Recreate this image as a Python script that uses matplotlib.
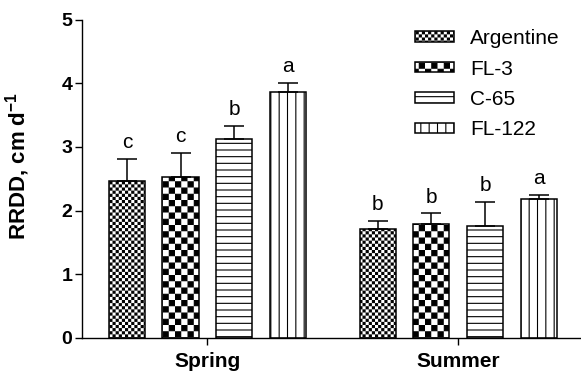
import warnings
import numpy as np
import matplotlib
matplotlib.use("Agg")
import matplotlib.pyplot as plt
from matplotlib import hatch as mhatch
from matplotlib.path import Path

warnings.filterwarnings("ignore")

# datos
estaciones = ["Spring", "Summer"]
cultivares = ["Argentine", "FL-3", "C-65", "FL-122"]
medias = {
    "Argentine": [2.47, 1.71],
    "FL-3": [2.52, 1.785],
    "C-65": [3.13, 1.76],
    "FL-122": [3.86, 2.18],
}
errores = {
    "Argentine": [0.34, 0.12],
    "FL-3": [0.39, 0.17],
    "C-65": [0.20, 0.37],
    "FL-122": [0.14, 0.07],
}
letras = {
    "Argentine": ["c", "b"],
    "FL-3": ["c", "b"],
    "C-65": ["b", "b"],
    "FL-122": ["a", "a"],
}

plt.rcParams["font.family"] = ["Liberation Sans", "DejaVu Sans"]
plt.rcParams["mathtext.fontset"] = "custom"
plt.rcParams["mathtext.rm"] = "Liberation Sans"
plt.rcParams["mathtext.bf"] = "Liberation Sans:bold"
plt.rcParams["hatch.linewidth"] = 0.8


# tramado de tablero (no existe en matplotlib), 'c' = 16 celdas por pulgada
class Tablero(mhatch.HatchPatternBase):
    def __init__(self, hatch, density):
        self.n = hatch.count("c") * 16
        self.num_vertices = (self.n * self.n // 2) * 5

    def set_vertices_and_codes(self, vertices, codes):
        s = 1.0 / self.n
        d = 0.0055
        sq = np.array([[d, d], [s - d, d], [s - d, s - d], [d, s - d], [d, d]])
        partes = []
        for i in range(self.n):
            for j in range(self.n):
                if (i + j) % 2 == 0:
                    partes.append(sq + [i * s, j * s])
        vertices[:] = np.concatenate(partes)
        cod = [Path.MOVETO, Path.LINETO, Path.LINETO, Path.LINETO, Path.CLOSEPOLY]
        codes[:] = np.tile(cod, len(partes))


# lineas horizontales mas densas, 'h' = 15 lineas por pulgada
class Horizontal(mhatch.HorizontalHatch):
    def __init__(self, hatch, density):
        self.num_lines = hatch.count("h") * 15
        self.num_vertices = self.num_lines * 2


mhatch._hatch_types.append(Tablero)
mhatch._hatch_types.append(Horizontal)

tramas = {"Argentine": "cc", "FL-3": "c", "C-65": "h", "FL-122": "||"}

fig = plt.figure(figsize=(5.81, 3.76), dpi=100)
ax = fig.add_axes([82 / 581, 1 - 338 / 376, 499 / 581, (338 - 19.5) / 376])

x = np.arange(len(estaciones))
paso = 0.214
ancho = 0.144
for i, c in enumerate(cultivares):
    pos = x + (i - 1.5) * paso
    ax.bar(pos, medias[c], width=ancho, color="white", edgecolor="black",
           linewidth=1.1, hatch=tramas[c], label=c,
           yerr=[np.zeros(len(x)), errores[c]],
           error_kw=dict(ecolor="black", elinewidth=1.1, capsize=7, capthick=1.1))
    for p, m, e, l in zip(pos, medias[c], errores[c], letras[c]):
        ax.annotate(l, (p, m + e), xytext=(0, 5), textcoords="offset points",
                    ha="center", va="bottom", fontsize=15)

ax.set_xlim(-0.5, 1.49)
ax.set_ylim(0, 5)
ax.set_yticks(range(6))
ax.set_xticks(x, estaciones)
for t in ax.get_xticklabels():
    t.set_fontweight("bold")
    t.set_fontsize(15)
for t in ax.get_yticklabels():
    t.set_fontweight("bold")
    t.set_fontsize(14)
ax.tick_params(direction="out", length=5, width=1, pad=2)
ax.tick_params(axis="x", pad=5)
ax.spines["top"].set_visible(False)
ax.spines["right"].set_visible(False)
ax.spines["left"].set_linewidth(1)
ax.spines["bottom"].set_linewidth(1)

ax.set_ylabel(r"RRDD, cm d$^{\mathbf{-1}}$", fontweight="bold", fontsize=16)
ax.yaxis.set_label_coords(-0.1, 0.54)

ax.legend(loc="upper left", bbox_to_anchor=(0.667, 0.97), frameon=False,
          borderpad=0, borderaxespad=0, handlelength=1.9, handleheight=0.4,
          handletextpad=0.75, labelspacing=0.55, fontsize=15)

fig.savefig("out.png", dpi=100)
